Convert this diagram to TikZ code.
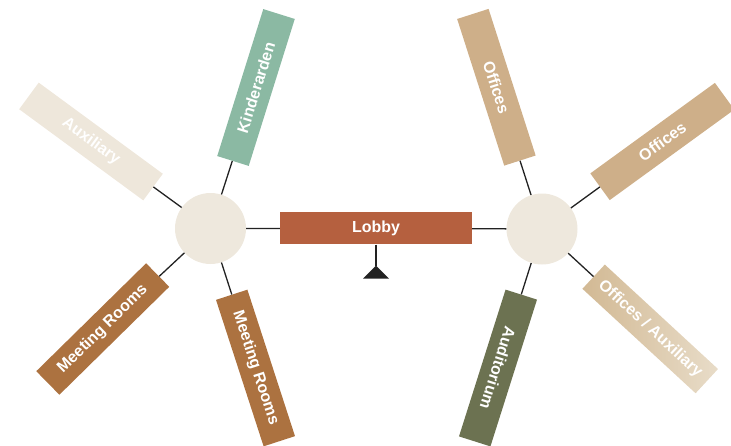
\documentclass[tikz,border=0pt]{standalone}
\usepackage{fontspec}
\setmainfont{Liberation Sans}
\definecolor{hubc}{HTML}{EEE8DD}
\definecolor{lobbyc}{HTML}{B5603F}
\definecolor{kinc}{HTML}{8BB9A3}
\definecolor{auxc}{HTML}{EEE7DB}
\definecolor{meetc}{HTML}{AC7240}
\definecolor{offc}{HTML}{CEAF89}
\definecolor{audc}{HTML}{6C7251}
\definecolor{oaA}{HTML}{D2B994}
\definecolor{oaB}{HTML}{E8DCC8}
\definecolor{linec}{HTML}{222222}
\begin{document}
\begin{tikzpicture}[x=1pt,y=-1pt,
  hub/.style={circle,fill=hubc,minimum size=71pt,inner sep=0pt},
  wing/.style={rectangle,minimum width=154pt,minimum height=33pt,inner sep=0pt,
    text=white,font=\fontsize{16}{19}\selectfont\bfseries},
  conn/.style={draw=linec,line width=1.3pt}]
\useasboundingbox (0,0) rectangle (731,445);
\node[hub] (L) at (210.5,228.5) {};
\node[hub] (R) at (542,229) {};
\node[wing,fill=lobbyc,minimum width=192pt,minimum height=32pt] (lobby) at (376,228.3) {Lobby};
\node[wing,fill=kinc,rotate=72.6] (kin) at (256,87.5) {Kinderarden};
\node[wing,fill=auxc,rotate=-36.3] (aux) at (91,141.5) {Auxiliary};
\node[wing,fill=meetc,rotate=44.5] (mr1) at (102.75,329) {Meeting Rooms};
\node[wing,fill=meetc,rotate=-72] (mr2) at (255.5,368) {Meeting Rooms};
\node[wing,fill=offc,rotate=-72.2] (off1) at (496.4,87.25) {Offices};
\node[wing,fill=offc,rotate=36] (off2) at (662.3,141.5) {Offices};
\node[wing,fill=audc,rotate=-107.6] (aud) at (498,368) {Auditorium};
\node[wing,left color=oaA,right color=oaB,rotate=-42.7] (oa) at (650.2,328.9) {Offices / Auxiliary};
\coordinate (tri) at (376,265.5);
\draw[conn] (L) -- (lobby);
\draw[conn] (lobby) -- (R);
\draw[conn] (L) -- (kin);
\draw[conn] (L) -- (aux);
\draw[conn] (L) -- (mr1);
\draw[conn] (L) -- (mr2);
\draw[conn] (R) -- (off1);
\draw[conn] (R) -- (off2);
\draw[conn] (R) -- (aud);
\draw[conn] (R) -- (oa);
\draw[conn] (lobby.south) -- (tri);
\fill[linec] (tri) -- ++(13,13) -- ++(-26,0) -- cycle;
\end{tikzpicture}
\end{document}
